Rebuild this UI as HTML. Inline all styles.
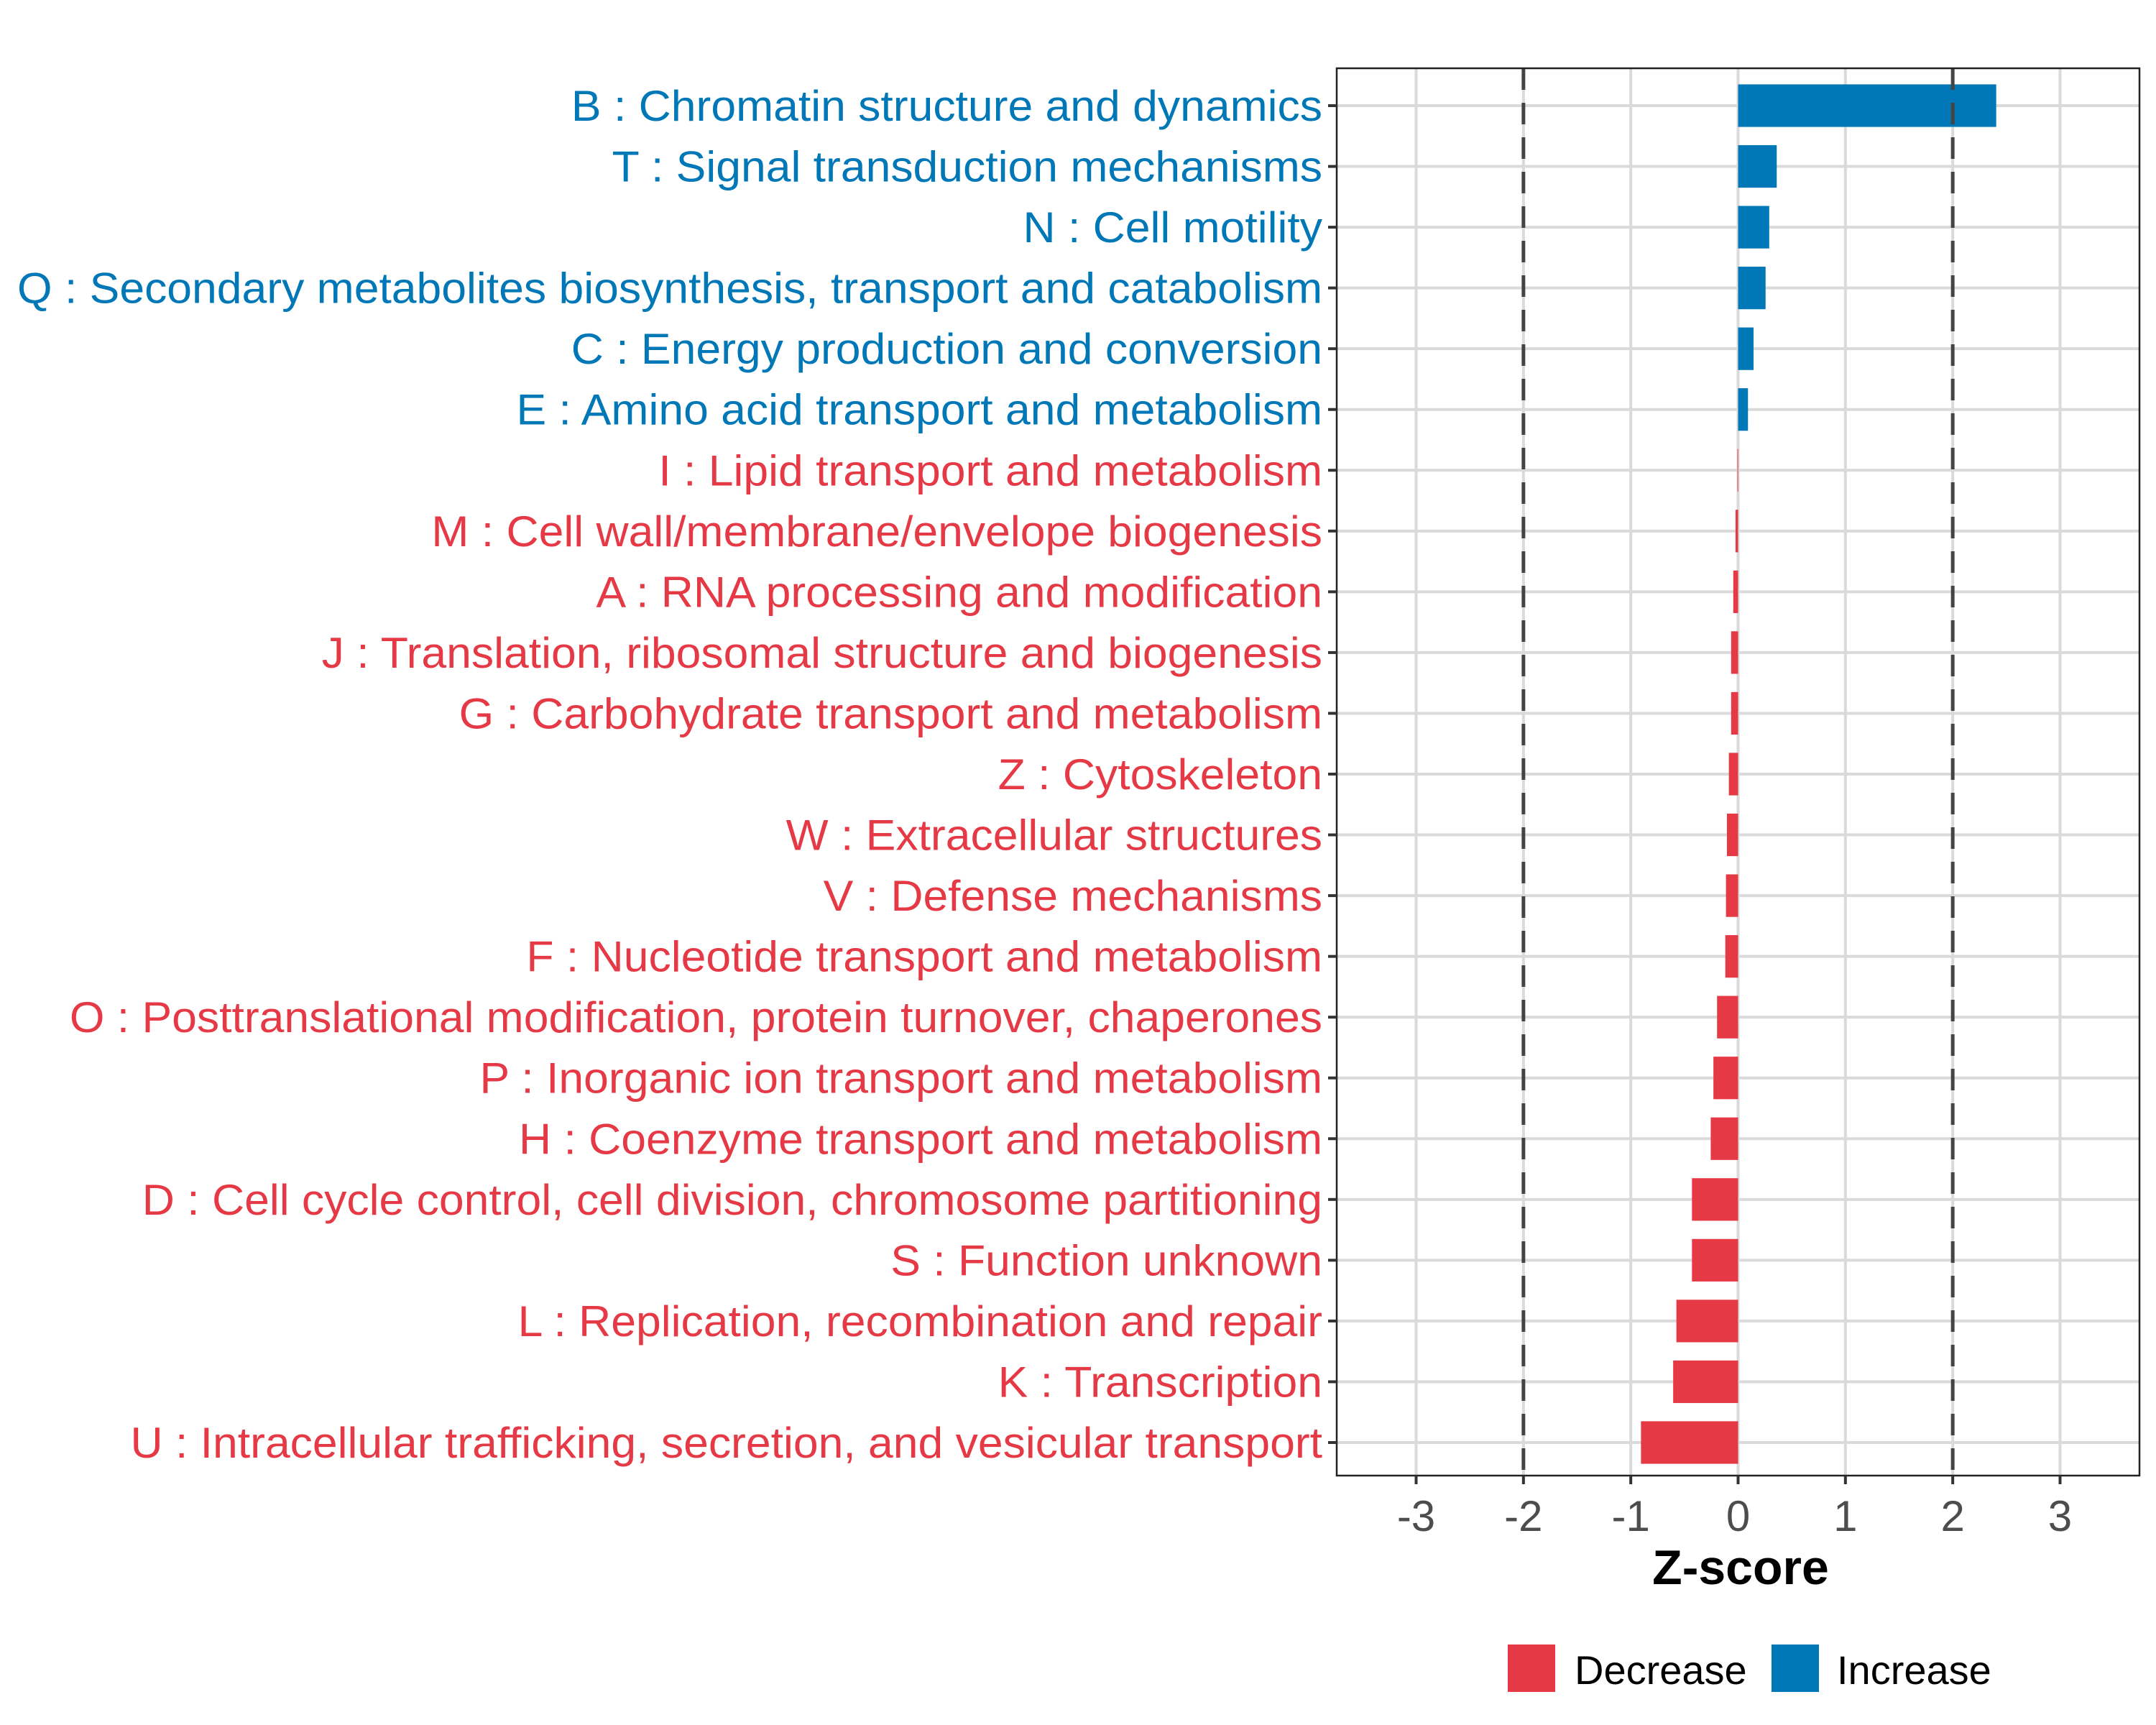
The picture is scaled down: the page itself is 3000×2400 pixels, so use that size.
<!DOCTYPE html>
<html><head><meta charset="utf-8"><style>
html,body{margin:0;padding:0;background:#fff;}
svg{display:block;font-family:"Liberation Sans",Arial,sans-serif;}
</style></head><body>
<svg id="chart" width="3000" height="2400" viewBox="0 0 3000 2400" xmlns="http://www.w3.org/2000/svg">
<rect x="0" y="0" width="3000" height="2400" fill="#fff"/>
<g id="grid"></g>
<g id="bars"></g>
<g id="refs"></g>
<rect x="1860" y="95" width="1117" height="1958" fill="none" stroke="#222" stroke-width="2.5"/>
<g id="yaxis"></g>
<g id="xaxis"></g>
<text x="2422" y="2204" text-anchor="middle" font-size="68" font-weight="bold" fill="#000">Z-score</text>
<g>
<rect x="2098" y="2288" width="66" height="66" fill="#E63946"/>
<text x="2191" y="2343" font-size="56" fill="#000">Decrease</text>
<rect x="2465" y="2288" width="66" height="66" fill="#0077B6"/>
<text x="2556" y="2343" font-size="56" fill="#000">Increase</text>
</g>
</svg>
<script>
const categories = [
"B : Chromatin structure and dynamics",
"T : Signal transduction mechanisms",
"N : Cell motility",
"Q : Secondary metabolites biosynthesis, transport and catabolism",
"C : Energy production and conversion",
"E : Amino acid transport and metabolism",
"I : Lipid transport and metabolism",
"M : Cell wall/membrane/envelope biogenesis",
"A : RNA processing and modification",
"J : Translation, ribosomal structure and biogenesis",
"G : Carbohydrate transport and metabolism",
"Z : Cytoskeleton",
"W : Extracellular structures",
"V : Defense mechanisms",
"F : Nucleotide transport and metabolism",
"O : Posttranslational modification, protein turnover, chaperones",
"P : Inorganic ion transport and metabolism",
"H : Coenzyme transport and metabolism",
"D : Cell cycle control, cell division, chromosome partitioning",
"S : Function unknown",
"L : Replication, recombination and repair",
"K : Transcription",
"U : Intracellular trafficking, secretion, and vesicular transport"
];
const zscores = [2.405, 0.36, 0.29, 0.256, 0.144, 0.092, -0.006, -0.024, -0.045, -0.065, -0.065, -0.086, -0.104, -0.113, -0.119, -0.196, -0.23, -0.255, -0.43, -0.43, -0.575, -0.605, -0.905];
const xTicks = [-3, -2, -1, 0, 1, 2, 3];
const xTickLabels = ["-3", "-2", "-1", "0", "1", "2", "3"];
const refLines = [-2, 2];

const NS = "http://www.w3.org/2000/svg";
const PL = 1860, PR = 2977, PT = 95, PB = 2053;
const XMIN = -3.74, XMAX = 3.74;
function xs(v){ return PL + (v - XMIN) / (XMAX - XMIN) * (PR - PL); }
const rowTop = 147, rowStep = (2007 - 147) / (categories.length - 1);
function ys(i){ return rowTop + i * rowStep; }
function mk(tag, attrs, parent){ const e = document.createElementNS(NS, tag); for (const k in attrs) e.setAttribute(k, attrs[k]); parent.appendChild(e); return e; }
const BLUE = "#0077B6", RED = "#E63946";

const grid = document.getElementById("grid");
xTicks.forEach(function(t){
  const l = mk("line", {x1: xs(t), x2: xs(t), y1: PT, y2: PB, stroke: "#dadada", "stroke-width": 4}, grid);
  
  
});
categories.forEach(function(c, i){
  const l = mk("line", {x1: PL, x2: PR, y1: ys(i), y2: ys(i), stroke: "#dadada", "stroke-width": 4}, grid);
  
  
});

const bars = document.getElementById("bars");
const bh = rowStep * 0.7;
zscores.forEach(function(v, i){
  const x0 = xs(0), x1 = xs(v);
  const r = mk("rect", {x: Math.min(x0, x1), y: ys(i) - bh / 2, width: Math.max(Math.abs(x1 - x0), 1), height: bh, fill: v >= 0 ? BLUE : RED}, bars);
  
  
});

const refs = document.getElementById("refs");
refLines.forEach(function(v){
  const l = mk("line", {x1: xs(v), x2: xs(v), y1: PT, y2: PB, stroke: "#444", "stroke-width": 5, "stroke-dasharray": "30 18"}, refs);
  
  
});

const yaxis = document.getElementById("yaxis");
const labels = [];
categories.forEach(function(c, i){
  const tk = mk("line", {x1: PL - 12, x2: PL, y1: ys(i), y2: ys(i), stroke: "#333", "stroke-width": 4}, yaxis);
  
  
  const t = mk("text", {x: PL - 20, y: ys(i) + 21, "text-anchor": "end", "font-size": 60, fill: zscores[i] >= 0 ? BLUE : RED}, yaxis);
  t.textContent = c;
  
  
  labels.push(t);
});
const qi = 3;
const qw = labels[qi].getComputedTextLength();
const ratio = (PL - 20 - 24) / qw;
labels.forEach(function(t){
  const w = t.getComputedTextLength();
  t.setAttribute("textLength", w * ratio);
  t.setAttribute("lengthAdjust", "spacingAndGlyphs");
});

const xaxis = document.getElementById("xaxis");
xTicks.forEach(function(t, i){
  const tk = mk("line", {x1: xs(t), x2: xs(t), y1: PB, y2: PB + 12, stroke: "#333", "stroke-width": 4}, xaxis);
  
  
  const lb = mk("text", {x: xs(t), y: 2130, "text-anchor": "middle", "font-size": 60, fill: "#4d4d4d"}, xaxis);
  lb.textContent = xTickLabels[i];
  
  
});
</script>
</body></html>
